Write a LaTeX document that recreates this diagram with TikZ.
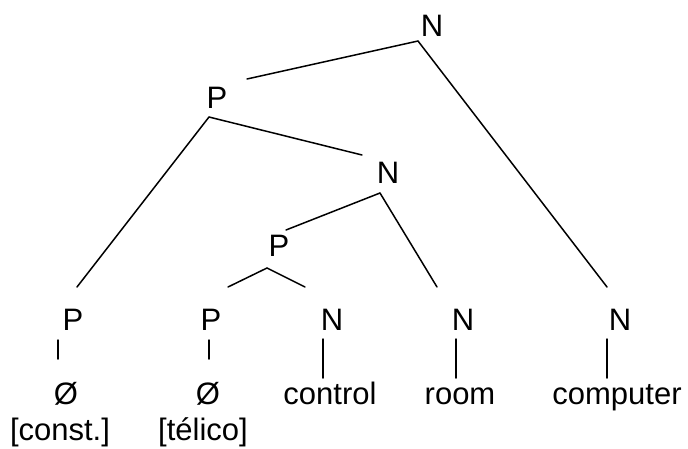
\documentclass[tikz,border=0pt]{standalone}
\usepackage{fontspec}
\setmainfont{Liberation Sans}
\begin{document}
\begin{tikzpicture}[x=1pt,y=-1pt,
  lbl/.style={inner sep=0pt,anchor=base,font=\fontsize{31}{37}\selectfont},
  branch/.style={line width=1.5pt,line cap=round}]
\useasboundingbox (0,0) rectangle (688,448);
% category labels
\node[lbl] (n1) at (432,36) {N};
\node[lbl] (p1) at (217,108) {P};
\node[lbl] (n2) at (388,183) {N};
\node[lbl] (p2) at (279,256) {P};
\node[lbl] (pa) at (73,330) {P};
\node[lbl] (pb) at (211,330) {P};
\node[lbl] (nc) at (332,330) {N};
\node[lbl] (nr) at (463,330) {N};
\node[lbl] (nk) at (620,330) {N};
% terminals
\node[lbl] (za) at (66,404) {Ø};
\node[lbl] (zb) at (208,404) {Ø};
\node[lbl] (wc) at (330,404) {control};
\node[lbl] (wr) at (460,404) {room};
\node[lbl] (wk) at (617,404) {computer};
\node[lbl] (fa) at (60,440) {[const.]};
\node[lbl] (fb) at (203,440) {[télico]};
% branch end points
\coordinate (n1b) at (418,41);
\coordinate (p1t) at (247,79);
\coordinate (nkt) at (607,287);
\coordinate (p1b) at (209,117);
\coordinate (n2t) at (362,155);
\coordinate (pat) at (77,287);
\coordinate (n2b) at (380,193);
\coordinate (p2t) at (286,230);
\coordinate (nrt) at (437,287);
\coordinate (p2b) at (267,268);
\coordinate (pbt) at (228,287);
\coordinate (nct) at (305,287);
% branches
\draw[branch] (n1b) -- (p1t);
\draw[branch] (n1b) -- (nkt);
\draw[branch] (p1b) -- (n2t);
\draw[branch] (p1b) -- (pat);
\draw[branch] (n2b) -- (p2t);
\draw[branch] (n2b) -- (nrt);
\draw[branch] (p2b) -- (pbt);
\draw[branch] (p2b) -- (nct);
% unary stems
\coordinate (paS) at (58,340); \coordinate (zaS) at (58,359);
\coordinate (pbS) at (209,340); \coordinate (zbS) at (209,359);
\coordinate (ncS) at (323,339); \coordinate (wcS) at (323,378);
\coordinate (nrS) at (456,339); \coordinate (wrS) at (456,378);
\coordinate (nkS) at (607,339); \coordinate (wkS) at (607,378);
\draw[branch] (paS) -- (zaS);
\draw[branch] (pbS) -- (zbS);
\draw[branch] (ncS) -- (wcS);
\draw[branch] (nrS) -- (wrS);
\draw[branch] (nkS) -- (wkS);
\end{tikzpicture}
\end{document}
